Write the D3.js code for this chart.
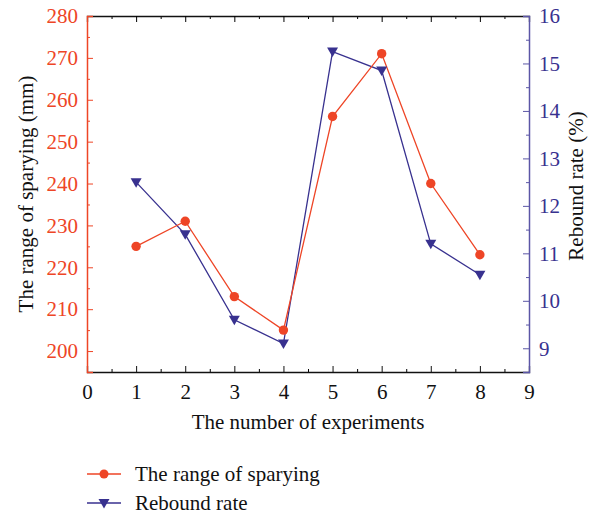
<!DOCTYPE html>
<html>
<head>
<meta charset="utf-8">
<script src="https://cdn.jsdelivr.net/npm/d3@7"></script>
<style>
  body { margin: 0; background: #fff; }
  text { font-family: "Liberation Serif", "DejaVu Serif", serif; }
</style>
</head>
<body>
<div id="chart"></div>
<script>
// data
const experiments = [1, 2, 3, 4, 5, 6, 7, 8];
const sprayRange = [225, 231, 213, 205, 256, 271, 240, 223];
const reboundRate = [12.5, 11.4, 9.6, 9.1, 15.25, 14.85, 11.2, 10.55];
const xTicks = [0, 1, 2, 3, 4, 5, 6, 7, 8, 9];
const leftTicks = [200, 210, 220, 230, 240, 250, 260, 270, 280];
const rightTicks = [9, 10, 11, 12, 13, 14, 15, 16];
const seriesNames = ["The range of sparying", "Rebound rate"];

const red = "#ee4526";
const blue = "#38318f";
const blueAxis = "#5b56a6";
const fontSize = "21px";

const config = {
    margin: { top: 16, left: 87 },
    width: 589,
    height: 517
};
config.innerW = 529 - config.margin.left;
config.innerH = 372 - config.margin.top;

const svg = d3.select("#chart")
    .append("svg")
    .attr("width", config.width)
    .attr("height", config.height);

const g = svg.append("g")
    .attr("transform", "translate(" + config.margin.left + "," + config.margin.top + ")");

const xScale = d3.scaleLinear().domain([0, 9]).range([0, config.innerW]);
const yLeft = d3.scaleLinear().domain([195, 280]).range([config.innerH, 0]);
const yRight = d3.scaleLinear().domain([8.5, 16]).range([config.innerH, 0]);

// bottom axis with inward ticks
const xMinor = d3.range(0.5, 9, 1);
g.append("g")
    .attr("transform", "translate(0," + config.innerH + ")")
    .call(d3.axisBottom(xScale).tickValues(xMinor).tickSize(-3).tickFormat(""))
    .call(a => a.select(".domain").remove());
const xAxis = g.append("g")
    .attr("transform", "translate(0," + config.innerH + ")")
    .call(d3.axisBottom(xScale).tickValues(xTicks).tickSize(-6).tickPadding(12).tickFormat(d3.format("d")));
xAxis.select(".domain").attr("stroke", "#111").attr("stroke-width", 1.3);
xAxis.selectAll(".tick line").attr("stroke", "#111");
xAxis.selectAll("text").attr("fill", "#111").style("font-size", fontSize);

// top axis mirror
g.append("g")
    .call(d3.axisTop(xScale).tickValues(xMinor).tickSize(-3).tickFormat(""))
    .call(a => a.select(".domain").remove());
const topAxis = g.append("g")
    .call(d3.axisTop(xScale).tickValues(xTicks).tickSize(-6).tickFormat(""));
topAxis.select(".domain").attr("stroke", "#111").attr("stroke-width", 1.3);

// left axis
const leftMinor = d3.range(195, 281, 5).filter(v => v % 10 !== 0);
g.append("g")
    .call(d3.axisLeft(yLeft).tickValues(leftMinor).tickSize(-3).tickFormat(""))
    .call(a => a.select(".domain").remove())
    .selectAll("line").attr("stroke", red);
const leftAxis = g.append("g")
    .call(d3.axisLeft(yLeft).tickValues(leftTicks).tickSize(-6).tickPadding(9));
leftAxis.select(".domain").attr("stroke", red).attr("stroke-width", 1.5);
leftAxis.selectAll(".tick line").attr("stroke", red);
leftAxis.selectAll("text").attr("fill", red).style("font-size", fontSize);

// right axis
const rightMinor = d3.range(8.5, 16.01, 0.5).filter(v => v % 1 !== 0);
g.append("g")
    .attr("transform", "translate(" + config.innerW + ",0)")
    .call(d3.axisRight(yRight).tickValues(rightMinor).tickSize(-3).tickFormat(""))
    .call(a => a.select(".domain").remove())
    .selectAll("line").attr("stroke", blueAxis);
const rightAxis = g.append("g")
    .attr("transform", "translate(" + config.innerW + ",0)")
    .call(d3.axisRight(yRight).tickValues(rightTicks).tickSize(-6).tickPadding(10));
rightAxis.select(".domain").attr("stroke", blueAxis).attr("stroke-width", 1.5);
rightAxis.selectAll(".tick line").attr("stroke", blueAxis);
rightAxis.selectAll("text").attr("fill", blue).style("font-size", fontSize);

// axis titles
g.append("text")
    .attr("transform", "translate(-61," + config.innerH / 2 + ") rotate(-90)")
    .attr("text-anchor", "middle")
    .attr("dy", "0.35em")
    .style("font-size", fontSize)
    .attr("fill", "#111")
    .text("The range of sparying (mm)");

g.append("text")
    .attr("transform", "translate(" + (config.innerW + 47) + "," + (config.innerH / 2 - 8) + ") rotate(-90)")
    .attr("text-anchor", "middle")
    .attr("dy", "0.35em")
    .style("font-size", fontSize)
    .attr("fill", "#111")
    .text("Rebound rate (%)");

g.append("text")
    .attr("x", config.innerW / 2)
    .attr("y", config.innerH + 57)
    .attr("text-anchor", "middle")
    .style("font-size", fontSize)
    .attr("fill", "#111")
    .text("The number of experiments");

// lines
const redLine = d3.line().x((d, i) => xScale(experiments[i])).y(d => yLeft(d));
const blueLine = d3.line().x((d, i) => xScale(experiments[i])).y(d => yRight(d));

g.append("path")
    .datum(reboundRate)
    .attr("d", blueLine)
    .attr("fill", "none")
    .attr("stroke", blue)
    .attr("stroke-width", 1.3);

g.append("path")
    .datum(sprayRange)
    .attr("d", redLine)
    .attr("fill", "none")
    .attr("stroke", red)
    .attr("stroke-width", 1.3);

const triangle = "M-5.5,-4L5.5,-4L0,5.5Z";

g.selectAll(".tri")
    .data(reboundRate)
    .enter().append("path")
    .attr("class", "tri")
    .attr("transform", (d, i) => "translate(" + xScale(experiments[i]) + "," + yRight(d) + ")")
    .attr("d", triangle)
    .attr("fill", blue);

g.selectAll(".dot")
    .data(sprayRange)
    .enter().append("circle")
    .attr("class", "dot")
    .attr("cx", (d, i) => xScale(experiments[i]))
    .attr("cy", d => yLeft(d))
    .attr("r", 4.7)
    .attr("fill", red);

// legend
const legend = svg.append("g").attr("transform", "translate(87,474)");
const colors = [red, blue];
seriesNames.forEach((name, i) => {
    const row = legend.append("g").attr("transform", "translate(0," + i * 29 + ")");
    row.append("line")
        .attr("x1", 0).attr("x2", 34)
        .attr("stroke", colors[i]).attr("stroke-width", 1.3);
    if (i === 0) {
        row.append("circle").attr("cx", 17).attr("r", 4.5).attr("fill", red);
    } else {
        row.append("path").attr("transform", "translate(17,0)").attr("d", triangle).attr("fill", blue);
    }
    row.append("text")
        .attr("x", 48)
        .attr("dy", "0.35em")
        .style("font-size", fontSize)
        .attr("fill", "#111")
        .text(name);
});
</script>
</body>
</html>
